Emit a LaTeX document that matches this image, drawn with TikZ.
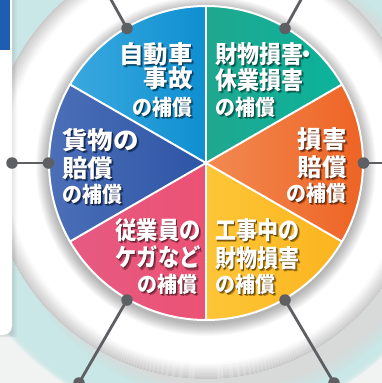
\documentclass[tikz,border=0pt]{standalone}
\usepackage{fontspec}
\usetikzlibrary{calc}
\newfontfamily\jp{Noto Sans CJK JP}
\definecolor{tealbg}{HTML}{C9E7E6}
\definecolor{outerbg}{HTML}{F1F3F3}
\definecolor{barblue}{HTML}{1F5DB3}
\definecolor{conncol}{HTML}{5E5F63}
\definecolor{shadowc}{HTML}{D8DADA}
\definecolor{sBlueL}{HTML}{3AA9DF}\definecolor{sBlueR}{HTML}{0E8FD1}
\definecolor{sTealL}{HTML}{20A78F}\definecolor{sTealR}{HTML}{0BB39B}
\definecolor{sOrL}{HTML}{F28A52}\definecolor{sOrR}{HTML}{EE6222}
\definecolor{sYeL}{HTML}{FDC637}\definecolor{sYeR}{HTML}{FBB41E}
\definecolor{sPiL}{HTML}{E65A82}\definecolor{sPiR}{HTML}{EC5274}
\definecolor{sDbL}{HTML}{4D70B8}\definecolor{sDbR}{HTML}{2D55A6}
\newcommand\shtext[2]{%
  \rlap{\kern2pt\raisebox{-2.6pt}[0pt][0pt]{\color{#1!68!black}#2}}%
  \rlap{\kern1pt\raisebox{-1.3pt}[0pt][0pt]{\color{#1!42!black}#2}}%
  #2}
\newcommand\BigT[3]{\scalebox{#1}[1]{\fontsize{24.5}{25}\selectfont\shtext{#2}{#3}}}
\newcommand\SmT[2]{\scalebox{0.93}[1]{\fontsize{21.5}{22}\selectfont\shtext{#1}{#2}}}
\begin{document}
\begin{tikzpicture}[x=1pt,y=-1pt,
  txt/.style={inner sep=0pt, font=\jp\bfseries, text=white},
  dotnode/.style={circle, fill=conncol, inner sep=0pt, minimum size=11.5pt},
  connline/.style={draw=conncol, line width=2.8pt},
  divider/.style={draw=white, line width=2pt}]
\useasboundingbox (0,0) rectangle (382,383);
\clip (0,0) rectangle (382,383);
\coordinate (C) at (206,163);
\coordinate (S) at (226,178);
\fill[outerbg] (-10,-10) rectangle (392,393);
% teal band
\foreach \i in {0,...,5}{\fill[tealbg, opacity=0.3] (C) circle (262-\i);}
\fill[tealbg] (C) circle (256);
% ring drop shadow
\fill[shadowc] (S) circle (212);
\foreach \i in {1,...,12}{\pgfmathsetmacro\op{0.85*(1-\i/13)}
  \draw[shadowc, line width=1.1pt, opacity=\op] (S) circle (212+\i);}
% white ring with grey rim
\fill[white] (C) circle (216);
\foreach \i in {0,...,15}{\pgfmathtruncatemacro\g{22*(1-\i/16)}
  \draw[black!\g, line width=1.1pt] (C) circle (216-\i-0.5);}
% pie shadow
\foreach \i in {0,...,12}{\fill[black, opacity=0.025] ($(C)+(0,3)$) circle (170-\i);}
% sectors
\shade[left color=sBlueL, right color=sBlueR] (C) -- ++(-90:157) arc[start angle=-90, end angle=-150, radius=157] -- cycle;
\shade[left color=sTealL, right color=sTealR] (C) -- ++(-30:157) arc[start angle=-30, end angle=-90, radius=157] -- cycle;
\shade[left color=sOrL, right color=sOrR] (C) -- ++(30:157) arc[start angle=30, end angle=-30, radius=157] -- cycle;
\shade[left color=sYeL, right color=sYeR] (C) -- ++(90:157) arc[start angle=90, end angle=30, radius=157] -- cycle;
\shade[left color=sPiL, right color=sPiR] (C) -- ++(150:157) arc[start angle=150, end angle=90, radius=157] -- cycle;
\shade[left color=sDbL, right color=sDbR] (C) -- ++(-150:157) arc[start angle=-150, end angle=-210, radius=157] -- cycle;
\foreach \a in {-90,-30,30,90,150,210}{\draw[divider] (C) -- ++(\a:157);}
\draw[divider] (C) circle (157);
% left panel
\foreach \i in {0,...,5}{\fill[black, opacity=0.02] (-20,-20) rectangle (12+\i,335+\i*0.5);}
\fill[white, rounded corners=9pt] (-20,-20) rectangle (12,335);
\fill[barblue] (0,0) rectangle (10,50);
% connectors
\coordinate (eTL) at (104,-13);
\coordinate (eTR) at (308,-13);
\coordinate (eR) at (395,163);
\node[dotnode] (dTL) at (127,28.5) {};
\node[dotnode] (dTR) at (285,28.5) {};
\node[dotnode] (dL) at (48.5,163) {};
\node[dotnode] (dLo) at (12,163) {};
\node[dotnode] (dR) at (363.5,163) {};
\node[dotnode] (dBL) at (127,300) {};
\node[dotnode] (dBLo) at (79,383) {};
\node[dotnode] (dBR) at (285,300) {};
\node[dotnode] (dBRo) at (334,383) {};
\draw[connline] (dTL.center) -- (eTL);
\draw[connline] (dTR.center) -- (eTR);
\draw[connline] (dL.center) -- (dLo.center);
\draw[connline] (dR.center) -- (eR);
\draw[connline] (dBL.center) -- (dBLo.center);
\draw[connline] (dBR.center) -- (dBRo.center);
% labels
\node[txt, anchor=east] (b1) at (193,54) {\BigT{1}{sBlueR}{自動車}};
\node[txt, anchor=east] (b2) at (193,78) {\BigT{1}{sBlueR}{事故}};
\node[txt, anchor=east] (b3) at (193,107) {\SmT{sBlueR}{の補償}};
\node[txt, anchor=west] (t1) at (215,54) {\BigT{0.9}{sTealR}{財物損害\kern-0.38em・}};
\node[txt, anchor=west] (t2) at (215,80) {\BigT{0.9}{sTealR}{休業損害}};
\node[txt, anchor=west] (t3) at (215,107) {\SmT{sTealR}{の補償}};
\node[txt, anchor=east] (o1) at (347,139) {\BigT{1}{sOrR}{損害}};
\node[txt, anchor=east] (o2) at (347,167) {\BigT{1}{sOrR}{賠償}};
\node[txt, anchor=east] (o3) at (347,193) {\SmT{sOrR}{の補償}};
\node[txt, anchor=west] (d1) at (62,140) {\BigT{1.04}{sDbR}{貨物の}};
\node[txt, anchor=west] (d2) at (62,168) {\BigT{1.04}{sDbR}{賠償}};
\node[txt, anchor=west] (d3) at (62,194) {\SmT{sDbR}{の補償}};
\node[txt, anchor=east] (p1) at (201,230) {\BigT{0.87}{sPiR}{従業員の}};
\node[txt, anchor=east] (p2) at (201,257) {\BigT{0.87}{sPiR}{ケガなど}};
\node[txt, anchor=east] (p3) at (198,284) {\SmT{sPiR}{の補償}};
\node[txt, anchor=west] (y1) at (215,230) {\BigT{0.86}{sYeR}{工事中の}};
\node[txt, anchor=west] (y2) at (215,258) {\BigT{0.86}{sYeR}{財物損害}};
\node[txt, anchor=west] (y3) at (215,284) {\SmT{sYeR}{の補償}};
\end{tikzpicture}
\end{document}
